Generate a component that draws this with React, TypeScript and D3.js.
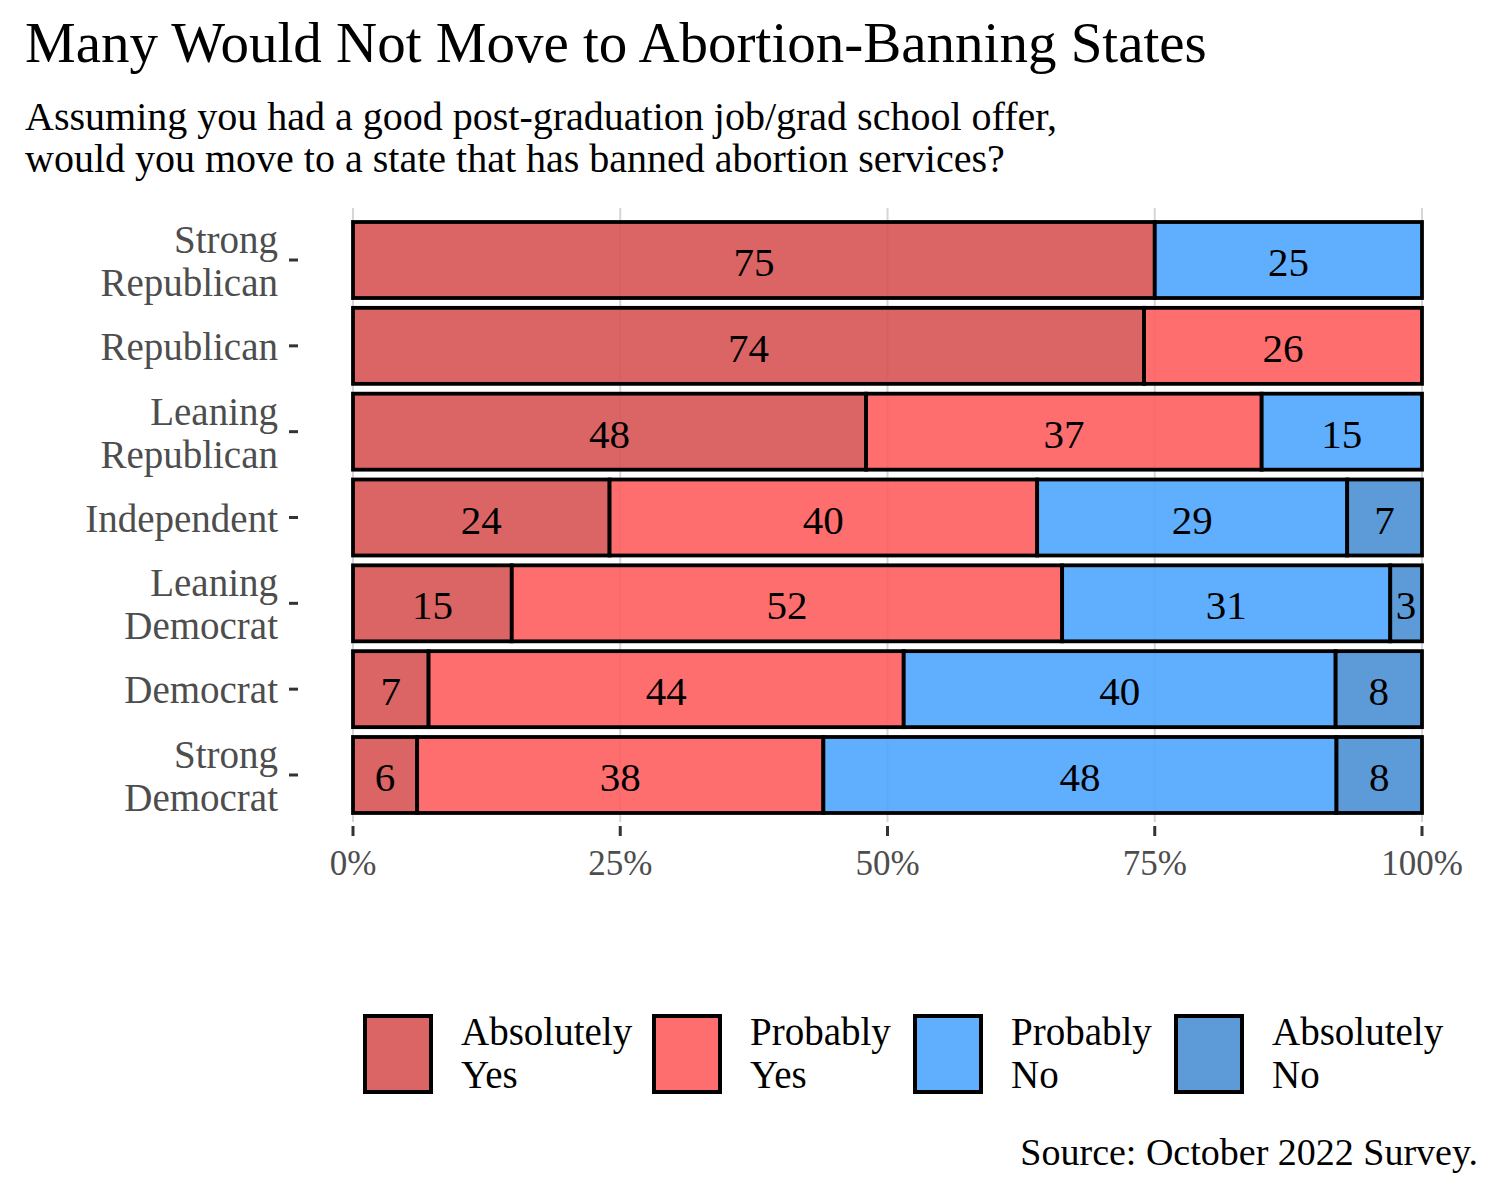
import * as d3 from "d3";

const categories = [
  "Strong Republican",
  "Republican",
  "Leaning Republican",
  "Independent",
  "Leaning Democrat",
  "Democrat",
  "Strong Democrat",
];
const categoryLines = [
  ["Strong", "Republican"],
  ["Republican"],
  ["Leaning", "Republican"],
  ["Independent"],
  ["Leaning", "Democrat"],
  ["Democrat"],
  ["Strong", "Democrat"],
];
const responses = ["Absolutely Yes", "Probably Yes", "Probably No", "Absolutely No"];
const responseLines = [
  ["Absolutely", "Yes"],
  ["Probably", "Yes"],
  ["Probably", "No"],
  ["Absolutely", "No"],
];
const absolutelyYes = [75, 74, 48, 24, 15, 7, 6];
const probablyYes = [0, 26, 37, 40, 52, 44, 38];
const probablyNo = [25, 0, 15, 29, 31, 40, 48];
const absolutelyNo = [0, 0, 0, 7, 3, 8, 8];
const xTicks = [0, 0.25, 0.5, 0.75, 1];

const colors = ["#d75454", "#ff5e5e", "#4fa6ff", "#4a90d4"];
const FONT = "'Liberation Serif', 'DejaVu Serif', serif";

export default function App() {
  const width = 1500;
  const height = 1200;
  const left = 353;
  const right = 1422;
  const top = 213;
  const bottom = 822;

  const x = d3.scaleLinear([0, 1], [left, right]);
  const y = d3.scaleBand(categories, [top, bottom]).paddingInner(0.1145).paddingOuter(0.105);

  const rows = categories.map((c, i) => {
    const vals = [absolutelyYes[i], probablyYes[i], probablyNo[i], absolutelyNo[i]];
    const total = d3.sum(vals);
    let acc = 0;
    return vals.map((v, k) => {
      const x0 = acc / total;
      acc += v;
      return { cat: c, k, v, x0, x1: acc / total };
    });
  });

  return (
    <svg width={width} height={height} style={{ display: "block", margin: -8 }} fontFamily={FONT}>
      <rect width={width} height={height} fill="white" />
      <text x={25} y={62} fontSize={57} fill="#000">
        Many Would Not Move to Abortion-Banning States
      </text>
      <text x={25} y={130} fontSize={40} fill="#000">
        Assuming you had a good post-graduation job/grad school offer,
      </text>
      <text x={25} y={172} fontSize={40} fill="#000">
        would you move to a state that has banned abortion services?
      </text>

      {/* grid */}
      {xTicks.map((t) => (
        <line key={t} x1={x(t)} x2={x(t)} y1={208} y2={822} stroke="#d6d6d6" strokeWidth={2} />
      ))}

      {/* bars */}
      {rows.map((segs) =>
        segs
          .filter((s) => s.v > 0)
          .map((s) => (
            <g key={s.cat + s.k}>
              <rect
                x={x(s.x0)}
                y={y(s.cat)}
                width={x(s.x1) - x(s.x0)}
                height={y.bandwidth()}
                fill={colors[s.k]}
                fillOpacity={0.9}
                stroke="#000"
                strokeWidth={3.8}
              />
              <text
                x={(x(s.x0) + x(s.x1)) / 2}
                y={y(s.cat)! + y.bandwidth() / 2 + 16}
                textAnchor="middle"
                fontSize={41}
                fill="#000"
              >
                {s.v}
              </text>
            </g>
          ))
      )}

      {/* y axis */}
      {categories.map((c, i) => {
        const cy = y(c)! + y.bandwidth() / 2;
        const lines = categoryLines[i];
        return (
          <g key={c}>
            <line x1={289} x2={298} y1={cy} y2={cy} stroke="#333" strokeWidth={3} />
            {lines.map((l, j) => (
              <text
                key={l}
                x={278}
                y={lines.length === 1 ? cy + 14 : cy - 7 + j * 43}
                textAnchor="end"
                fontSize={39}
                fill="#4d4d4d"
              >
                {l}
              </text>
            ))}
          </g>
        );
      })}

      {/* x axis */}
      {xTicks.map((t) => (
        <g key={t}>
          <line x1={x(t)} x2={x(t)} y1={826} y2={836} stroke="#333" strokeWidth={3} />
          <text x={x(t)} y={875} textAnchor="middle" fontSize={35} fill="#4d4d4d">
            {d3.format(".0%")(t)}
          </text>
        </g>
      ))}

      {/* legend */}
      {responses.map((r, k) => {
        const lx = [365, 654, 915, 1176][k];
        return (
          <g key={r}>
            <rect x={lx} y={1016} width={66} height={76} fill={colors[k]} fillOpacity={0.9} stroke="#000" strokeWidth={4} />
            {responseLines[k].map((l, j) => (
              <text key={l} x={lx + 96} y={1045 + j * 43} fontSize={39} fill="#000">
                {l}
              </text>
            ))}
          </g>
        );
      })}

      <text x={1478} y={1165} textAnchor="end" fontSize={38} fill="#000">
        Source: October 2022 Survey.
      </text>
    </svg>
  );
}
